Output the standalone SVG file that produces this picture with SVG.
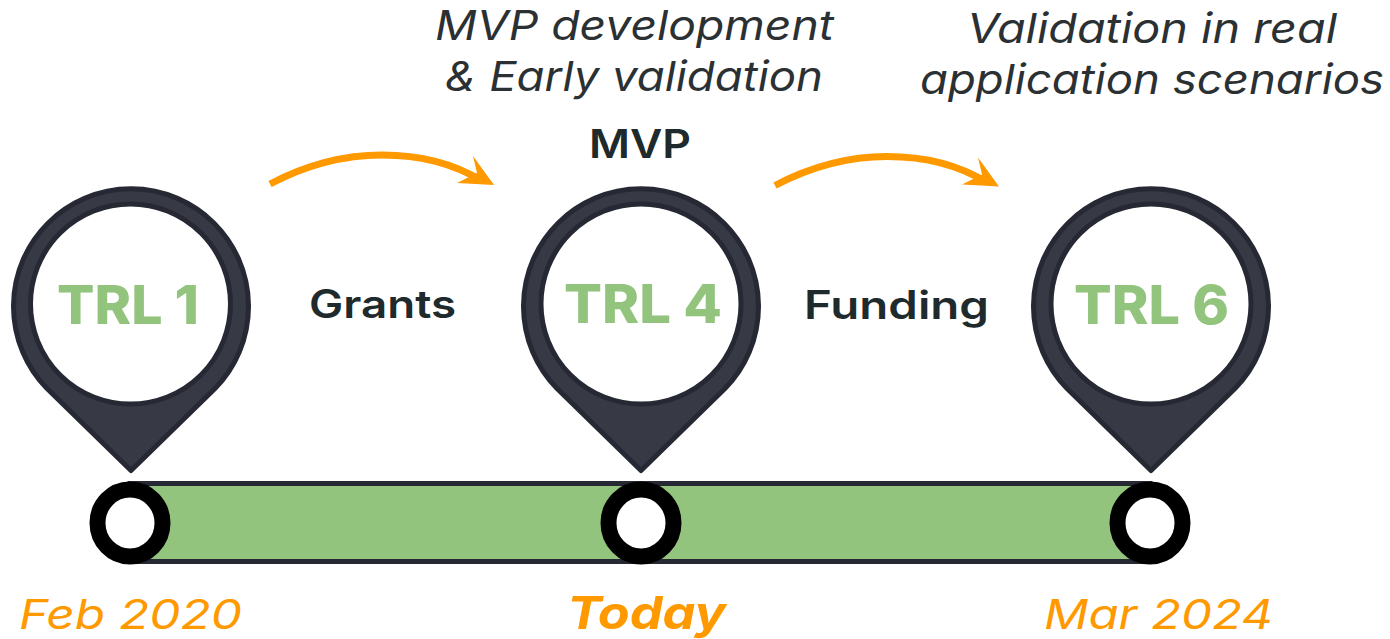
<svg xmlns="http://www.w3.org/2000/svg" width="1390" height="639" viewBox="0 0 1390 639">
<style>
text{font-family:"Inter","Open Sans","Liberation Sans",sans-serif}
.pin{fill:#373945;stroke:#262933;stroke-width:5;stroke-linejoin:round}
.hole{fill:#fff;stroke:#262933;stroke-width:5}
.trl{font-size:53px;font-weight:800;fill:#93c47d}
.lbl{font-size:39px;font-weight:600;fill:#1f2a2c}
.note{font-size:41px;font-style:italic;font-weight:400;fill:#2b3033}
.date{font-size:41px;font-style:italic;font-weight:400;fill:#ff9900}
.arc{fill:none;stroke:#ff9900;stroke-width:7}
.head{fill:#ff9900}
.dot{fill:#fff;stroke:#000;stroke-width:16}
</style>
<defs>
<path id="pinshape" class="pin" d="M0,166 L-84,84 A117.5,117.5 0 1 1 84,84 Z"/>
<g id="arrow"><path class="arc" d="M0,0 Q55,-29 112,-29 Q170,-29 212,-3"/><path class="head" d="M224,1 L203,-28 L207,-11 L187,-1 Z"/></g>
</defs>
<g id="bar"><rect x="130" y="483.500" width="1020" height="78" fill="#93c47d" stroke="#262933" stroke-width="5"/></g>
<g id="connectors">
<use href="#arrow" x="270" y="184"/>
<use href="#arrow" x="775" y="185.500"/>
</g>
<g id="node-trl1">
<use href="#pinshape" x="131" y="304.500"/><circle class="hole" cx="130.500" cy="304" r="100"/>
<text class="trl" x="57" y="324" textLength="142" lengthAdjust="spacingAndGlyphs">TRL 1</text>
</g>
<g id="node-trl4">
<use href="#pinshape" x="641" y="304.500"/><circle class="hole" cx="641" cy="304" r="100"/>
<text class="trl" x="564" y="323" textLength="158" lengthAdjust="spacingAndGlyphs">TRL 4</text>
</g>
<g id="node-trl6">
<use href="#pinshape" x="1151" y="304.500"/><circle class="hole" cx="1151" cy="304" r="100"/>
<text class="trl" x="1074" y="324" textLength="155" lengthAdjust="spacingAndGlyphs">TRL 6</text>
</g>
<g id="dot1"><ellipse class="dot" cx="130" cy="523" rx="32.500" ry="33.500"/></g>
<g id="dot2"><ellipse class="dot" cx="641" cy="523" rx="32.500" ry="33.500"/></g>
<g id="dot3"><ellipse class="dot" cx="1150" cy="523" rx="32.500" ry="33.500"/></g>
<g id="labels">
<text class="lbl" x="309" y="318" textLength="147" lengthAdjust="spacingAndGlyphs">Grants</text>
<text class="lbl" x="804" y="319" textLength="185" lengthAdjust="spacingAndGlyphs">Funding</text>
<text class="lbl" x="589" y="158" textLength="102" lengthAdjust="spacingAndGlyphs">MVP</text>
<text class="note" x="435" y="40" textLength="399" lengthAdjust="spacingAndGlyphs">MVP development</text>
<text class="note" x="445" y="91" textLength="378" lengthAdjust="spacingAndGlyphs">&amp; Early validation</text>
<text class="note" x="967" y="43" textLength="370" lengthAdjust="spacingAndGlyphs">Validation in real</text>
<text class="note" x="920" y="94" textLength="464" lengthAdjust="spacingAndGlyphs">application scenarios</text>
<text class="date" x="19" y="629" textLength="223" lengthAdjust="spacingAndGlyphs">Feb 2020</text>
<text class="date" x="567" y="629" textLength="159" lengthAdjust="spacingAndGlyphs" style="font-weight:700;font-size:45px">Today</text>
<text class="date" x="1044" y="629" textLength="229" lengthAdjust="spacingAndGlyphs">Mar 2024</text>
</g>
</svg>
